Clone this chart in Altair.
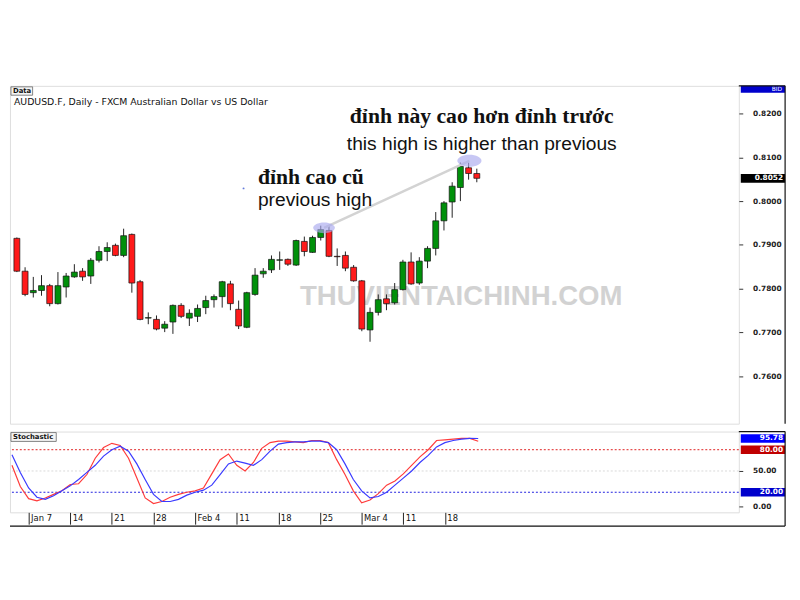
import altair as alt
import pandas as pd

# ---------------- data ----------------
opens = [0.7915, 0.7840, 0.7791, 0.7796, 0.7807, 0.7766, 0.7804, 0.7827, 0.7840, 0.7829,
         0.7865, 0.7885, 0.7899, 0.7876, 0.7924, 0.7816, 0.7733, 0.7730, 0.7710, 0.7724,
         0.7762, 0.7733, 0.7737, 0.7757, 0.7775, 0.7782, 0.7811, 0.7753, 0.7712, 0.7787,
         0.7834, 0.7843, 0.7865, 0.7867, 0.7854, 0.7908, 0.7883, 0.7917, 0.7933, 0.7874,
         0.7876, 0.7849, 0.7818, 0.7706, 0.7746, 0.7777, 0.7768, 0.7798, 0.7861, 0.7813,
         0.7863, 0.7892, 0.7955, 0.7998, 0.8031, 0.8076, 0.8063]
highs = [0.7917, 0.7849, 0.7827, 0.7831, 0.7811, 0.7838, 0.7836, 0.7856, 0.7847, 0.7870,
         0.7897, 0.7906, 0.7903, 0.7937, 0.7926, 0.7820, 0.7746, 0.7739, 0.7726, 0.7764,
         0.7767, 0.7753, 0.7764, 0.7784, 0.7787, 0.7818, 0.7818, 0.7773, 0.7793, 0.7847,
         0.7847, 0.7876, 0.7885, 0.7869, 0.7912, 0.7919, 0.7921, 0.7944, 0.7944, 0.7892,
         0.7885, 0.7854, 0.7820, 0.7757, 0.7787, 0.7787, 0.7813, 0.7866, 0.7883, 0.7872,
         0.7897, 0.7975, 0.8000, 0.8043, 0.8088, 0.8088, 0.8074]
lows = [0.7838, 0.7783, 0.7780, 0.7784, 0.7760, 0.7764, 0.7780, 0.7825, 0.7818, 0.7811,
        0.7860, 0.7863, 0.7874, 0.7872, 0.7791, 0.7728, 0.7719, 0.7705, 0.7701, 0.7697,
        0.7733, 0.7715, 0.7724, 0.7742, 0.7757, 0.7757, 0.7751, 0.7708, 0.7710, 0.7784,
        0.7825, 0.7836, 0.7843, 0.7852, 0.7852, 0.7874, 0.7882, 0.7910, 0.7872, 0.7852,
        0.7840, 0.7816, 0.7703, 0.7679, 0.7739, 0.7751, 0.7764, 0.7796, 0.7809, 0.7809,
        0.7847, 0.7876, 0.7933, 0.7962, 0.8000, 0.8049, 0.8043]
closes = [0.7840, 0.7787, 0.7796, 0.7807, 0.7766, 0.7807, 0.7829, 0.7838, 0.7827, 0.7865,
          0.7885, 0.7894, 0.7876, 0.7921, 0.7813, 0.7730, 0.7734, 0.7708, 0.7719, 0.7762,
          0.7737, 0.7744, 0.7755, 0.7773, 0.7782, 0.7816, 0.7766, 0.7715, 0.7791, 0.7831,
          0.7840, 0.7867, 0.7866, 0.7856, 0.7910, 0.7885, 0.7917, 0.7935, 0.7874, 0.7873,
          0.7847, 0.7818, 0.7708, 0.7746, 0.7775, 0.7766, 0.7798, 0.7861, 0.7811, 0.7863,
          0.7892, 0.7955, 0.7996, 0.8034, 0.8079, 0.8063, 0.8052]

stoch_k = [58, 28, 11, 8, 12, 17, 22, 31, 32, 45, 68, 83, 89, 86, 68, 40, 12, 4, 7, 13,
           17, 20, 22, 26, 46, 66, 74, 58, 50, 62, 82, 90, 92, 92, 91, 90, 93, 93, 90, 66,
           45, 22, 5, 9, 18, 30, 36, 46, 58, 70, 80, 93, 94, 95, 96, 96, 92]
stoch_d = [73, 48, 26, 13, 10, 15, 22, 29, 38, 48, 58, 71, 80, 85, 78, 60, 38, 17, 7, 7,
           10, 16, 20, 23, 30, 45, 60, 64, 61, 58, 66, 78, 88, 90, 91, 91, 92, 92, 90, 80,
           60, 38, 22, 12, 14, 20, 30, 40, 50, 62, 72, 84, 90, 93, 95, 96, 95.78]

tick_idx = [2, 7, 12, 17, 22, 27, 32, 37, 42, 47, 52]
tick_labels = ["Jan 7", "14", "21", "28", "Feb 4", "11", "18", "25", "Mar 4", "11", "18"]

price_ticks = [0.76, 0.77, 0.78, 0.79, 0.80, 0.81, 0.82]
last_price = 0.8052
stoch_levels = [80, 50, 20]
stoch_ticks = [0, 50]

title_text = "AUDUSD.F, Daily - FXCM Australian Dollar vs US Dollar"
ann_vi_new = "đỉnh này cao hơn đỉnh trước"
ann_en_new = "this high is higher than previous"
ann_vi_old = "đỉnh cao cũ"
ann_en_old = "previous high"
watermark = "THUVIENTAICHINH.COM"

# annotation anchors (index, price)
old_high = (37.4, 0.7939)
new_high = (55.1, 0.8092)

# ---------------- chart ----------------
n = len(opens)
UP, DOWN = "#00900a", "#ff1a1a"
df = pd.DataFrame({"i": list(range(n)), "o": opens, "h": highs, "l": lows, "c": closes})
df["col"] = [UP if c >= o else DOWN for o, c in zip(opens, closes)]

X_DOM = [-0.24, 87.3]
P_DOM = [0.7492, 0.8263]
S_DOM = [-8.3, 105.6]
W, HM, HS = 740, 343, 82
FONT = "DejaVu Sans"

xs = alt.Scale(domain=X_DOM, nice=False, zero=False)
ps = alt.Scale(domain=P_DOM, nice=False, zero=False)
ss = alt.Scale(domain=S_DOM, nice=False, zero=False)

PAXIS = alt.Axis(orient="right", values=price_ticks, format=".4f", grid=False, domain=False,
                 tickSize=4, tickColor="#333", labelPadding=10, labelFont=FONT, labelFontSize=7.5,
                 labelFontWeight="bold", labelColor="#222", title=None, zindex=0)
SAXIS = alt.Axis(orient="right", values=stoch_ticks, format=".2f", grid=False, domain=False, tickSize=4,
                 tickColor="#333", labelPadding=10, labelFont=FONT, labelFontSize=7.5, labelFontWeight="bold",
                 labelColor="#222", title=None, zindex=0)
XAXIS = alt.Axis(values=tick_idx,
                 labelExpr="[" + ",".join(f"'{t}'" for t in tick_labels) + "][round((datum.value-2)/5)]",
                 labelAlign="left", labelBaseline="top", labelOffset=2, labelPadding=-11, tickSize=12,
                 tickColor="#222", domain=False, grid=False, labelFont=FONT, labelFontSize=8.5,
                 labelColor="#111", title=None, labelFlush=False, labelOverlap=False)


def PX(f="i:Q"):
    return alt.X(f, scale=xs, axis=None)


def PY(f):
    return alt.Y(f, scale=ps, axis=PAXIS)


def SY(f):
    return alt.Y(f, scale=ss, axis=SAXIS)


one = pd.DataFrame({"k": [0]})


def frame_lines(h_bottom):
    # outer frame of the right price strip
    v = alt.Chart(one).mark_rule(color="#111", strokeWidth=1.2).encode(
        x=alt.value(787), y=alt.value(0), y2=alt.value(h_bottom))
    t = alt.Chart(one).mark_rule(color="#111", strokeWidth=1.2).encode(
        x=alt.value(740), x2=alt.value(787), y=alt.value(0))
    return v, t


base = alt.Chart(df)
wick = base.mark_rule(color="#222222", strokeWidth=1).encode(x=PX(), y=PY("l:Q"), y2="h:Q")
body = base.mark_bar(size=6, stroke="#111111", strokeWidth=0.7).encode(
    x=PX(), y=PY("o:Q"), y2="c:Q", color=alt.Color("col:N", scale=None))

wm = alt.Chart(pd.DataFrame({"i": [54.1], "p": [0.7780], "t": [watermark]})).mark_text(
    font="Liberation Sans", fontSize=28, fontWeight="bold", color="#c8c8c8", opacity=0.8,
    align="center", baseline="middle").encode(x=PX(), y=PY("p:Q"), text="t:N")

conn = alt.Chart(pd.DataFrame({"i": [old_high[0]], "p": [old_high[1]], "i2": [new_high[0]], "p2": [new_high[1]]})).mark_rule(
    color="#d3d3d3", strokeWidth=2.5).encode(x=PX(), y=PY("p:Q"), x2="i2:Q", y2="p2:Q")

ell_df = pd.DataFrame({"i": [old_high[0], new_high[0]], "p": [old_high[1], new_high[1]], "s": [484, 600]})
ell = alt.Chart(ell_df).mark_point(
    shape="M -1 0 A 1 0.5 0 1 0 1 0 A 1 0.5 0 1 0 -1 0 Z", filled=True, color="#a9a9ee", opacity=0.65).encode(
    x=PX(), y=PY("p:Q"), size=alt.Size("s:Q", scale=None, legend=None))

dot = alt.Chart(pd.DataFrame({"i": [27.6], "p": [0.8029]})).mark_point(
    filled=True, size=4, color="#2244cc").encode(x=PX(), y=PY("p:Q"))

vi_new = alt.Chart(pd.DataFrame({"i": [56.6], "p": [0.81933], "t": [ann_vi_new]})).mark_text(
    font="Liberation Serif", fontSize=22, fontWeight="bold", color="#111", align="center", baseline="middle").encode(
    x=PX(), y=PY("p:Q"), text="t:N")
en_new = alt.Chart(pd.DataFrame({"i": [56.6], "p": [0.81303], "t": [ann_en_new]})).mark_text(
    font="Liberation Sans", fontSize=19.5, color="#111", align="center", baseline="middle").encode(
    x=PX(), y=PY("p:Q"), text="t:N")
vi_old = alt.Chart(pd.DataFrame({"i": [29.35], "p": [0.80539], "t": [ann_vi_old]})).mark_text(
    font="Liberation Serif", fontSize=22, fontWeight="bold", color="#111", align="left", baseline="middle").encode(
    x=PX(), y=PY("p:Q"), text="t:N")
en_old = alt.Chart(pd.DataFrame({"i": [29.35], "p": [0.80022], "t": [ann_en_old]})).mark_text(
    font="Liberation Sans", fontSize=19.5, color="#111", align="left", baseline="middle").encode(
    x=PX(), y=PY("p:Q"), text="t:N")

# header decorations
data_box = alt.Chart(one).mark_rect(fill="#f4f4f4", stroke="#666", strokeWidth=0.8).encode(
    x=alt.value(1), x2=alt.value(23), y=alt.value(1), y2=alt.value(9.5))
data_txt = alt.Chart(pd.DataFrame({"t": ["Data"]})).mark_text(
    font=FONT, fontSize=7, fontWeight="bold", align="left", baseline="middle", color="#111").encode(
    x=alt.value(3), y=alt.value(5.2), text="t:N")
title = alt.Chart(pd.DataFrame({"t": [title_text]})).mark_text(
    font=FONT, fontSize=9.5, align="left", baseline="middle", color="#111").encode(
    x=alt.value(4), y=alt.value(16), text="t:N")

# right-axis boxes
bid_box = alt.Chart(one).mark_rect(fill="#0000cc").encode(
    x=alt.value(742), x2=alt.value(787), y=alt.value(0), y2=alt.value(7))
bid_txt = alt.Chart(pd.DataFrame({"t": ["BID"]})).mark_text(
    font=FONT, fontSize=6, color="white", align="right", baseline="middle").encode(
    x=alt.value(784), y=alt.value(3.5), text="t:N")
lp_df = pd.DataFrame({"p": [last_price], "a": [last_price + 0.001], "b": [last_price - 0.001],
                      "t": [f"{last_price:.4f}"], "c": ["#000000"]})
lp_box = alt.Chart(lp_df).mark_rect().encode(
    x=alt.value(742), x2=alt.value(787), y=PY("a:Q"), y2="b:Q", color=alt.Color("c:N", scale=None))
lp_txt = alt.Chart(lp_df).mark_text(
    font=FONT, fontSize=7.5, fontWeight="bold", color="white", align="right", baseline="middle").encode(
    x=alt.value(785), y=PY("p:Q"), text="t:N")

mv, mt = frame_lines(HM)
main = alt.layer(wm, wick, body, conn, ell, dot, vi_new, en_new, vi_old, en_old,
                 data_box, data_txt, title, bid_box, bid_txt, lp_box, lp_txt, mv, mt).properties(width=W, height=HM)

# ---------------- stochastic ----------------
sdf = pd.DataFrame({"i": list(range(n)) * 2, "v": stoch_k + stoch_d,
                    "s": ["K"] * n + ["D"] * n,
                    "col": ["#ff3b3b"] * n + ["#3a3aff"] * n})
lines = alt.Chart(sdf).mark_line(strokeWidth=1.2).encode(
    x=alt.X("i:Q", scale=xs, axis=XAXIS), y=SY("v:Q"),
    color=alt.Color("col:N", scale=None), detail="s:N")
lev_df = pd.DataFrame({"v": stoch_levels, "c": ["#e02020", "#d8d8d8", "#2020e0"]})
levels = alt.Chart(lev_df).mark_rule(strokeDash=[2, 2], strokeWidth=1).encode(
    y=SY("v:Q"), color=alt.Color("c:N", scale=None))

box_vals = [stoch_d[-1], 80, 20]
box_df = pd.DataFrame({"a": [v + 6 for v in box_vals], "b": [v - 6 for v in box_vals], "v": box_vals,
                       "t": [f"{v:.2f}" for v in box_vals], "c": ["#0000ff", "#c00000", "#0000cc"]})
sboxes = alt.Chart(box_df).mark_rect().encode(
    x=alt.value(742), x2=alt.value(787), y=SY("a:Q"), y2="b:Q", color=alt.Color("c:N", scale=None))
stxt = alt.Chart(box_df).mark_text(font=FONT, fontSize=7.5, fontWeight="bold", color="white",
                                    align="right", baseline="middle").encode(
    x=alt.value(785), y=SY("v:Q"), text="t:N")

st_box = alt.Chart(one).mark_rect(fill="#f4f4f4", stroke="#666", strokeWidth=0.8).encode(
    x=alt.value(1), x2=alt.value(47), y=alt.value(1), y2=alt.value(10))
st_txt = alt.Chart(pd.DataFrame({"t": ["Stochastic"]})).mark_text(
    font=FONT, fontSize=7, fontWeight="bold", align="left", baseline="middle", color="#111").encode(
    x=alt.value(3), y=alt.value(5.5), text="t:N")

sv, stp = frame_lines(HS + 14)
sbot = alt.Chart(one).mark_rule(color="#111", strokeWidth=1.2).encode(
    x=alt.value(0), x2=alt.value(787), y=alt.value(HS + 14))

stoch = alt.layer(levels, lines, sboxes, stxt, st_box, st_txt, sv, stp, sbot).properties(width=W, height=HS)

chart = alt.vconcat(main, stoch, spacing=4).properties(
    padding={"left": 0, "top": 73, "right": 5, "bottom": 5}
).resolve_scale(y="independent", color="independent").configure_view(
    stroke="#111", strokeWidth=1.2).configure(background="white")

chart.save("out.html", embed_options={"renderer": "svg", "actions": False})
